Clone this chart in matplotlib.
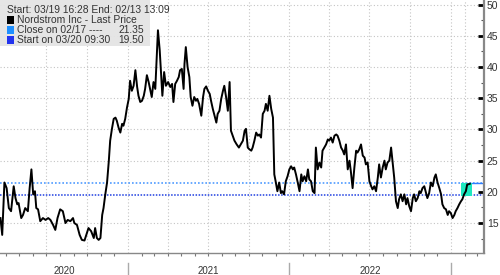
# Nordstrom Inc - last price chart, Bloomberg style

import numpy as np
import pandas as pd
import matplotlib
matplotlib.use('Agg')
import matplotlib.pyplot as plt
import matplotlib.dates as mdates
import matplotlib.transforms as mtransforms
from matplotlib.patches import Rectangle

plt.rcParams['font.family'] = ['Liberation Sans', 'DejaVu Sans']

# price; day = days after the start date
start_date = '2020-03-19'
end_date = '2023-02-13'
day = [
    0, 4, 9, 14, 19, 24, 30, 34, 38, 41,
    47, 51, 56, 62, 66, 70, 74, 78, 81, 85,
    90, 96, 102, 108, 113, 119, 124, 129, 135, 141,
    147, 152, 158, 164, 167, 173, 179, 184, 190, 194,
    199, 205, 211, 214, 218, 222, 226, 230, 233, 237,
    241, 245, 248, 252, 256, 260, 263, 267, 271, 275,
    278, 282, 286, 290, 293, 297, 301, 305, 309, 312,
    316, 320, 324, 327, 331, 335, 339, 342, 346, 350,
    354, 356, 360, 363, 366, 370, 374, 379, 384, 388,
    391, 395, 399, 403, 406, 410, 414, 416, 419, 423,
    427, 430, 434, 438, 442, 445, 449, 454, 458, 461,
    465, 469, 473, 476, 480, 484, 488, 491, 495, 499,
    503, 506, 510, 514, 518, 521, 525, 529, 534, 539,
    543, 548, 552, 555, 559, 563, 567, 570, 574, 578,
    582, 585, 589, 593, 597, 600, 604, 608, 612, 616,
    619, 622, 626, 630, 634, 637, 641, 645, 649, 653,
    657, 661, 664, 668, 672, 676, 680, 683, 687, 691,
    695, 698, 702, 706, 710, 713, 717, 721, 725, 728,
    732, 736, 740, 743, 747, 751, 755, 759, 762, 766,
    770, 774, 777, 781, 785, 789, 792, 796, 800, 804,
    807, 811, 815, 819, 823, 826, 830, 834, 838, 841,
    845, 849, 853, 856, 860, 864, 868, 871, 875, 879,
    883, 886, 890, 894, 898, 901, 905, 909, 913, 917,
    920, 924, 928, 932, 935, 939, 943, 947, 950, 954,
    958, 962, 965, 969, 973, 977, 981, 984, 988, 992,
    996, 999, 1003, 1007, 1011, 1014, 1018, 1022, 1026, 1029,
    1033, 1037, 1041, 1044, 1048, 1052, 1055, 1057, 1061,
]
price = [
    15.8, 13.1, 21.5, 20.6, 17.4, 16.9, 20.9, 19.0, 18.0, 18.2,
    15.8, 16.3, 17.4, 16.9, 20.6, 23.6, 19.6, 20.1, 17.4, 17.2,
    15.3, 15.8, 15.5, 15.8, 15.5, 14.7, 13.9, 15.8, 17.2, 16.9,
    15.0, 15.5, 15.3, 15.8, 15.0, 14.7, 13.1, 12.3, 12.2, 13.1,
    14.2, 13.7, 12.6, 14.2, 12.6, 12.3, 12.6, 16.3, 17.4, 19.6,
    21.5, 25.0, 28.2, 30.1, 31.7, 31.9, 31.4, 30.3, 29.5, 30.9,
    30.6, 31.7, 33.5, 34.9, 37.8, 36.2, 37.0, 39.5, 36.8, 35.4,
    34.4, 34.6, 35.4, 36.5, 38.7, 37.6, 36.2, 35.2, 37.6, 36.5,
    42.7, 45.9, 42.7, 38.9, 35.4, 39.2, 37.0, 37.6, 36.8, 37.3,
    34.4, 37.3, 37.8, 38.4, 39.5, 39.7, 36.5, 40.5, 43.2, 40.0,
    38.4, 35.2, 33.8, 35.2, 34.6, 34.9, 34.1, 32.2, 35.2, 36.5,
    36.9, 36.2, 35.7, 34.6, 33.3, 32.2, 31.1, 32.5, 33.0, 34.9,
    36.2, 37.0, 35.2, 33.0, 37.6, 29.8, 29.0, 28.2, 27.6, 27.1,
    27.6, 28.2, 29.8, 30.1, 27.1, 26.8, 26.6, 27.1, 28.2, 29.5,
    29.0, 29.2, 28.7, 32.5, 33.0, 34.1, 33.0, 35.4, 33.3, 31.9,
    22.8, 21.7, 20.1, 21.5, 19.8, 20.1, 19.6, 21.7, 22.5, 23.6,
    24.1, 23.6, 23.9, 22.8, 21.5, 20.1, 22.8, 21.7, 22.5, 21.7,
    23.6, 22.0, 21.7, 20.1, 19.8, 27.1, 23.6, 24.7, 23.9, 26.6,
    27.1, 27.6, 28.4, 28.2, 28.7, 27.9, 29.0, 29.2, 29.0, 28.2,
    27.1, 26.6, 26.0, 27.6, 23.6, 25.0, 23.3, 20.6, 23.9, 26.6,
    26.3, 26.8, 27.6, 25.8, 25.5, 24.4, 24.7, 21.7, 20.9, 20.4,
    20.9, 20.1, 22.3, 24.4, 22.3, 23.9, 25.0, 23.6, 24.7, 25.0,
    27.1, 25.0, 22.3, 18.5, 17.4, 18.8, 19.6, 18.5, 19.6, 18.0,
    19.0, 17.7, 16.9, 19.0, 19.6, 18.5, 19.0, 20.1, 19.8, 20.6,
    20.9, 19.8, 19.0, 19.8, 21.5, 20.9, 22.3, 22.8, 21.5, 20.6,
    19.6, 18.0, 17.4, 17.2, 16.3, 16.9, 16.6, 15.8, 16.3, 16.9,
    17.4, 18.0, 18.5, 18.8, 19.6, 20.1, 21.2, 21.2, 21.3,
]

close_level = 21.35
start_level = 19.50
box_start, box_end = '2023-01-24', '2023-02-19'
year_labels = ['2020', '2021', '2022']

legend_rows = [
    ('Nordstrom Inc - Last Price', '', 'black'),
    ('Close on 02/17 ----', '21.35', '#1e8fff'),
    ('Start on 03/20 09:30', '19.50', '#2233ee'),
]

dates = pd.Timestamp(start_date) + pd.to_timedelta(day, unit='D')

fig = plt.figure(figsize=(5, 2.75), dpi=100)
ax = fig.add_axes([0.0, 0.08, 0.968, 0.92])

x_left = pd.Timestamp('2020-03-18')
x_right = pd.Timestamp('2023-03-17')
ax.set_xlim(x_left, x_right)
ax.set_ylim(10.2, 50.75)

# grid
grid_kw = dict(color='#c4c4c4', lw=0.8, ls=(0, (1, 2)), zorder=0)
for v in [15, 25, 30, 35, 40, 45, 50]:
    ax.axhline(v, **grid_kw)
for d in pd.date_range('2020-07-01', '2023-01-01', freq='QS'):
    ax.axvline(d, **grid_kw)
ax.axvline(pd.Timestamp('2023-02-01'), **grid_kw)

# reference levels
ax.axhline(close_level, color='#4f9bff', lw=1.2, ls=(0, (1, 1.2)), zorder=1)
ax.hlines(close_level, pd.Timestamp(end_date), x_right, color='#2f7fff', lw=1.0, zorder=1)
ax.axhline(start_level, color='#1f3fe0', lw=1.1, ls=(0, (1, 1)), zorder=1)
ax.add_patch(Rectangle((mdates.date2num(pd.Timestamp(box_start)), start_level - 0.1),
                       mdates.date2num(pd.Timestamp(box_end)) - mdates.date2num(pd.Timestamp(box_start)),
                       close_level - start_level + 0.2,
                       color='#1ee8c0', lw=0, zorder=2))

ax.plot(dates, price, color='black', lw=1.4, zorder=3)

# axes look
for s in ['left', 'top']:
    ax.spines[s].set_visible(False)
ax.spines['right'].set_color('#888888')
ax.spines['right'].set_linewidth(1.6)
ax.spines['bottom'].set_color('#888888')
ax.spines['bottom'].set_linewidth(1.0)

ax.yaxis.tick_right()
ax.set_yticks([15, 20, 25, 30, 35, 40, 45, 50])
ax.set_yticks([12.5, 17.5, 22.5, 27.5, 32.5, 37.5, 42.5, 47.5], minor=True)
ax.tick_params(axis='y', which='major', direction='in', length=4, width=2,
               colors='black', labelsize=7.5, pad=2, labelcolor='#333333')
ax.tick_params(axis='y', which='minor', direction='in', length=2, width=0.8, colors='#555555')

ax.xaxis.set_major_locator(mdates.YearLocator())
ax.xaxis.set_minor_locator(mdates.MonthLocator())
ax.xaxis.set_major_formatter(plt.NullFormatter())
ax.tick_params(axis='x', which='major', length=0)
ax.tick_params(axis='x', which='minor', direction='out', length=2.5, width=0.8, colors='#777777')

# year labels and separators below the axis
trans = mtransforms.blended_transform_factory(ax.transData, ax.transAxes)
bounds = [x_left, pd.Timestamp('2021-01-01'), pd.Timestamp('2022-01-01'), pd.Timestamp('2023-01-01')]
for i, lab in enumerate(year_labels):
    mid = bounds[i] + (bounds[i + 1] - bounds[i]) / 2
    ax.text(mid, -0.07, lab, transform=trans, ha='center', va='center',
            fontsize=7, color='#333333')
for b in bounds[1:]:
    ax.plot([b, b], [-0.04, -0.095], transform=trans, color='#aaaaaa',
            lw=1.0, clip_on=False)

# legend box top left
W, H = 500.0, 275.0
fig.patches.append(Rectangle((0, 1 - 46 / H), 150 / W, 46 / H, transform=fig.transFigure,
                             facecolor='#e4e4e4', edgecolor='none', alpha=0.95, zorder=5))
fig.text(7 / W, 1 - 10 / H, 'Start: 03/19 16:28 End: 02/13 13:09', fontsize=7.4,
         color='#333333', va='center', ha='left', zorder=6)
for i, (lab, val, col) in enumerate(legend_rows):
    yc = 1 - (20 + 10 * i) / H
    fig.patches.append(Rectangle((7 / W, yc - 3.5 / H), 7 / W, 7 / H, transform=fig.transFigure,
                                 facecolor=col, edgecolor='none', zorder=6))
    fig.text(17 / W, yc, lab, fontsize=7.4, color='#333333', va='center', ha='left', zorder=6)
    if val:
        fig.text(144 / W, yc, val, fontsize=7.4, color='#333333', va='center', ha='right', zorder=6)

fig.savefig('out.png', dpi=100)
